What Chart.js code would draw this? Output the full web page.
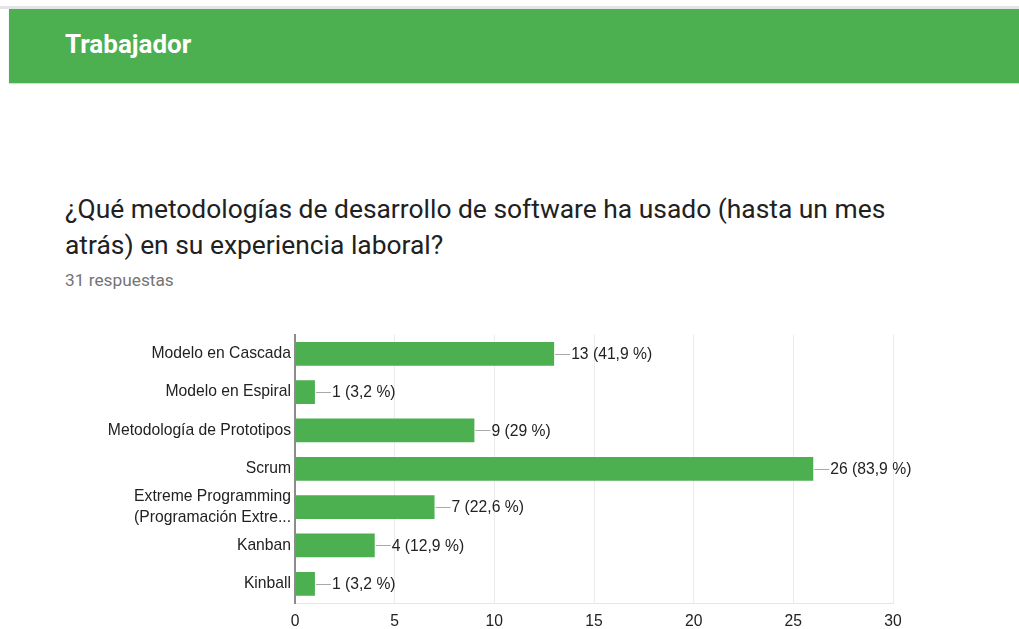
<!DOCTYPE html>
<html>
<head>
<meta charset="utf-8">
<script src="https://cdn.jsdelivr.net/npm/chart.js@4"></script>
<style>
  html, body { margin:0; padding:0; background:#fff; width:1019px; height:629px; overflow:hidden; }
  #topline { position:absolute; left:0; top:6px; width:1019px; height:3px; background:#e4e4e4; }
  #header { position:absolute; left:9px; top:9px; width:1010px; height:74px; background:#4caf50; box-shadow:0 1px 1px rgba(0,0,0,0.15); }
  #header span { position:absolute; left:56px; top:20px; font-family:Roboto, sans-serif; font-weight:bold; font-size:26px; color:#fff; }
  #q { position:absolute; left:65px; top:191px; width:950px; font-family:Roboto, sans-serif; font-size:26.4px; line-height:36px; color:#212121; white-space:nowrap; }
  #resp { position:absolute; left:65px; top:270px; font-family:Roboto, sans-serif; font-size:17.3px; color:#757575; }
  #wrap { position:absolute; left:0; top:320px; width:1019px; height:309px; }
</style>
</head>
<body>
<div id="topline"></div>
<div id="header"><span>Trabajador</span></div>
<div id="q">¿Qué metodologías de desarrollo de software ha usado (hasta un mes<br>atrás) en su experiencia laboral?</div>
<div id="resp">31 respuestas</div>
<div id="wrap"><canvas id="c" width="1019" height="309"></canvas></div>
<script>
const categories = [
  "Modelo en Cascada",
  "Modelo en Espiral",
  "Metodología de Prototipos",
  "Scrum",
  ["Extreme Programming", "(Programación Extre..."],
  "Kanban",
  "Kinball"
];
const counts = [13, 1, 9, 26, 7, 4, 1];
const percents = ["41,9", "3,2", "29", "83,9", "22,6", "12,9", "3,2"];
const xTicks = [0, 5, 10, 15, 20, 25, 30];

const FONT = 'Arial, "Liberation Sans", sans-serif';

const valueLabels = {
  id: 'valueLabels',
  afterDatasetsDraw(chart) {
    const ctx = chart.ctx;
    const meta = chart.getDatasetMeta(0);
    ctx.save();
    ctx.font = '15.7px ' + FONT;
    ctx.textBaseline = 'middle';
    meta.data.forEach((bar, i) => {
      const x = bar.x, y = bar.y;
      ctx.strokeStyle = '#a8a8a8';
      ctx.lineWidth = 1;
      ctx.beginPath();
      ctx.moveTo(x + 1, Math.round(y) + 0.5);
      ctx.lineTo(x + 16, Math.round(y) + 0.5);
      ctx.stroke();
      ctx.fillStyle = '#222';
      ctx.fillText(counts[i] + ' (' + percents[i] + ' %)', x + 17, y + 1);
    });
    ctx.restore();
  }
};

new Chart(document.getElementById('c'), {
  type: 'bar',
  data: {
    labels: categories,
    datasets: [{
      data: counts,
      backgroundColor: '#4caf50',
      borderWidth: 0,
      categoryPercentage: 0.62,
      barPercentage: 1.0
    }]
  },
  plugins: [valueLabels],
  options: {
    indexAxis: 'y',
    responsive: false,
    animation: false,
    layout: { padding: { top: 13, right: 126, left: 0, bottom: 0 } },
    plugins: { legend: { display: false }, tooltip: { enabled: false } },
    scales: {
      x: {
        min: 0, max: 30,
        afterBuildTicks(scale) { scale.ticks = xTicks.map(v => ({ value: v })); },
        afterFit(scale) { scale.height = 26; },
        grid: { color: '#ebebeb', drawTicks: false, lineWidth: 1 },
        border: { display: true, color: '#e6e6e6' },
        ticks: { padding: 9, color: '#222', maxRotation: 0, font: { family: FONT, size: 15.7 } }
      },
      y: {
        afterFit(scale) { scale.width = 295; },
        grid: { display: false, drawTicks: false },
        border: { display: true, color: '#8c8c8c', width: 2 },
        ticks: { autoSkip: false, padding: 4, color: '#222', font: { family: FONT, size: 15.7, lineHeight: 1.35 } }
      }
    }
  }
});
</script>
</body>
</html>
